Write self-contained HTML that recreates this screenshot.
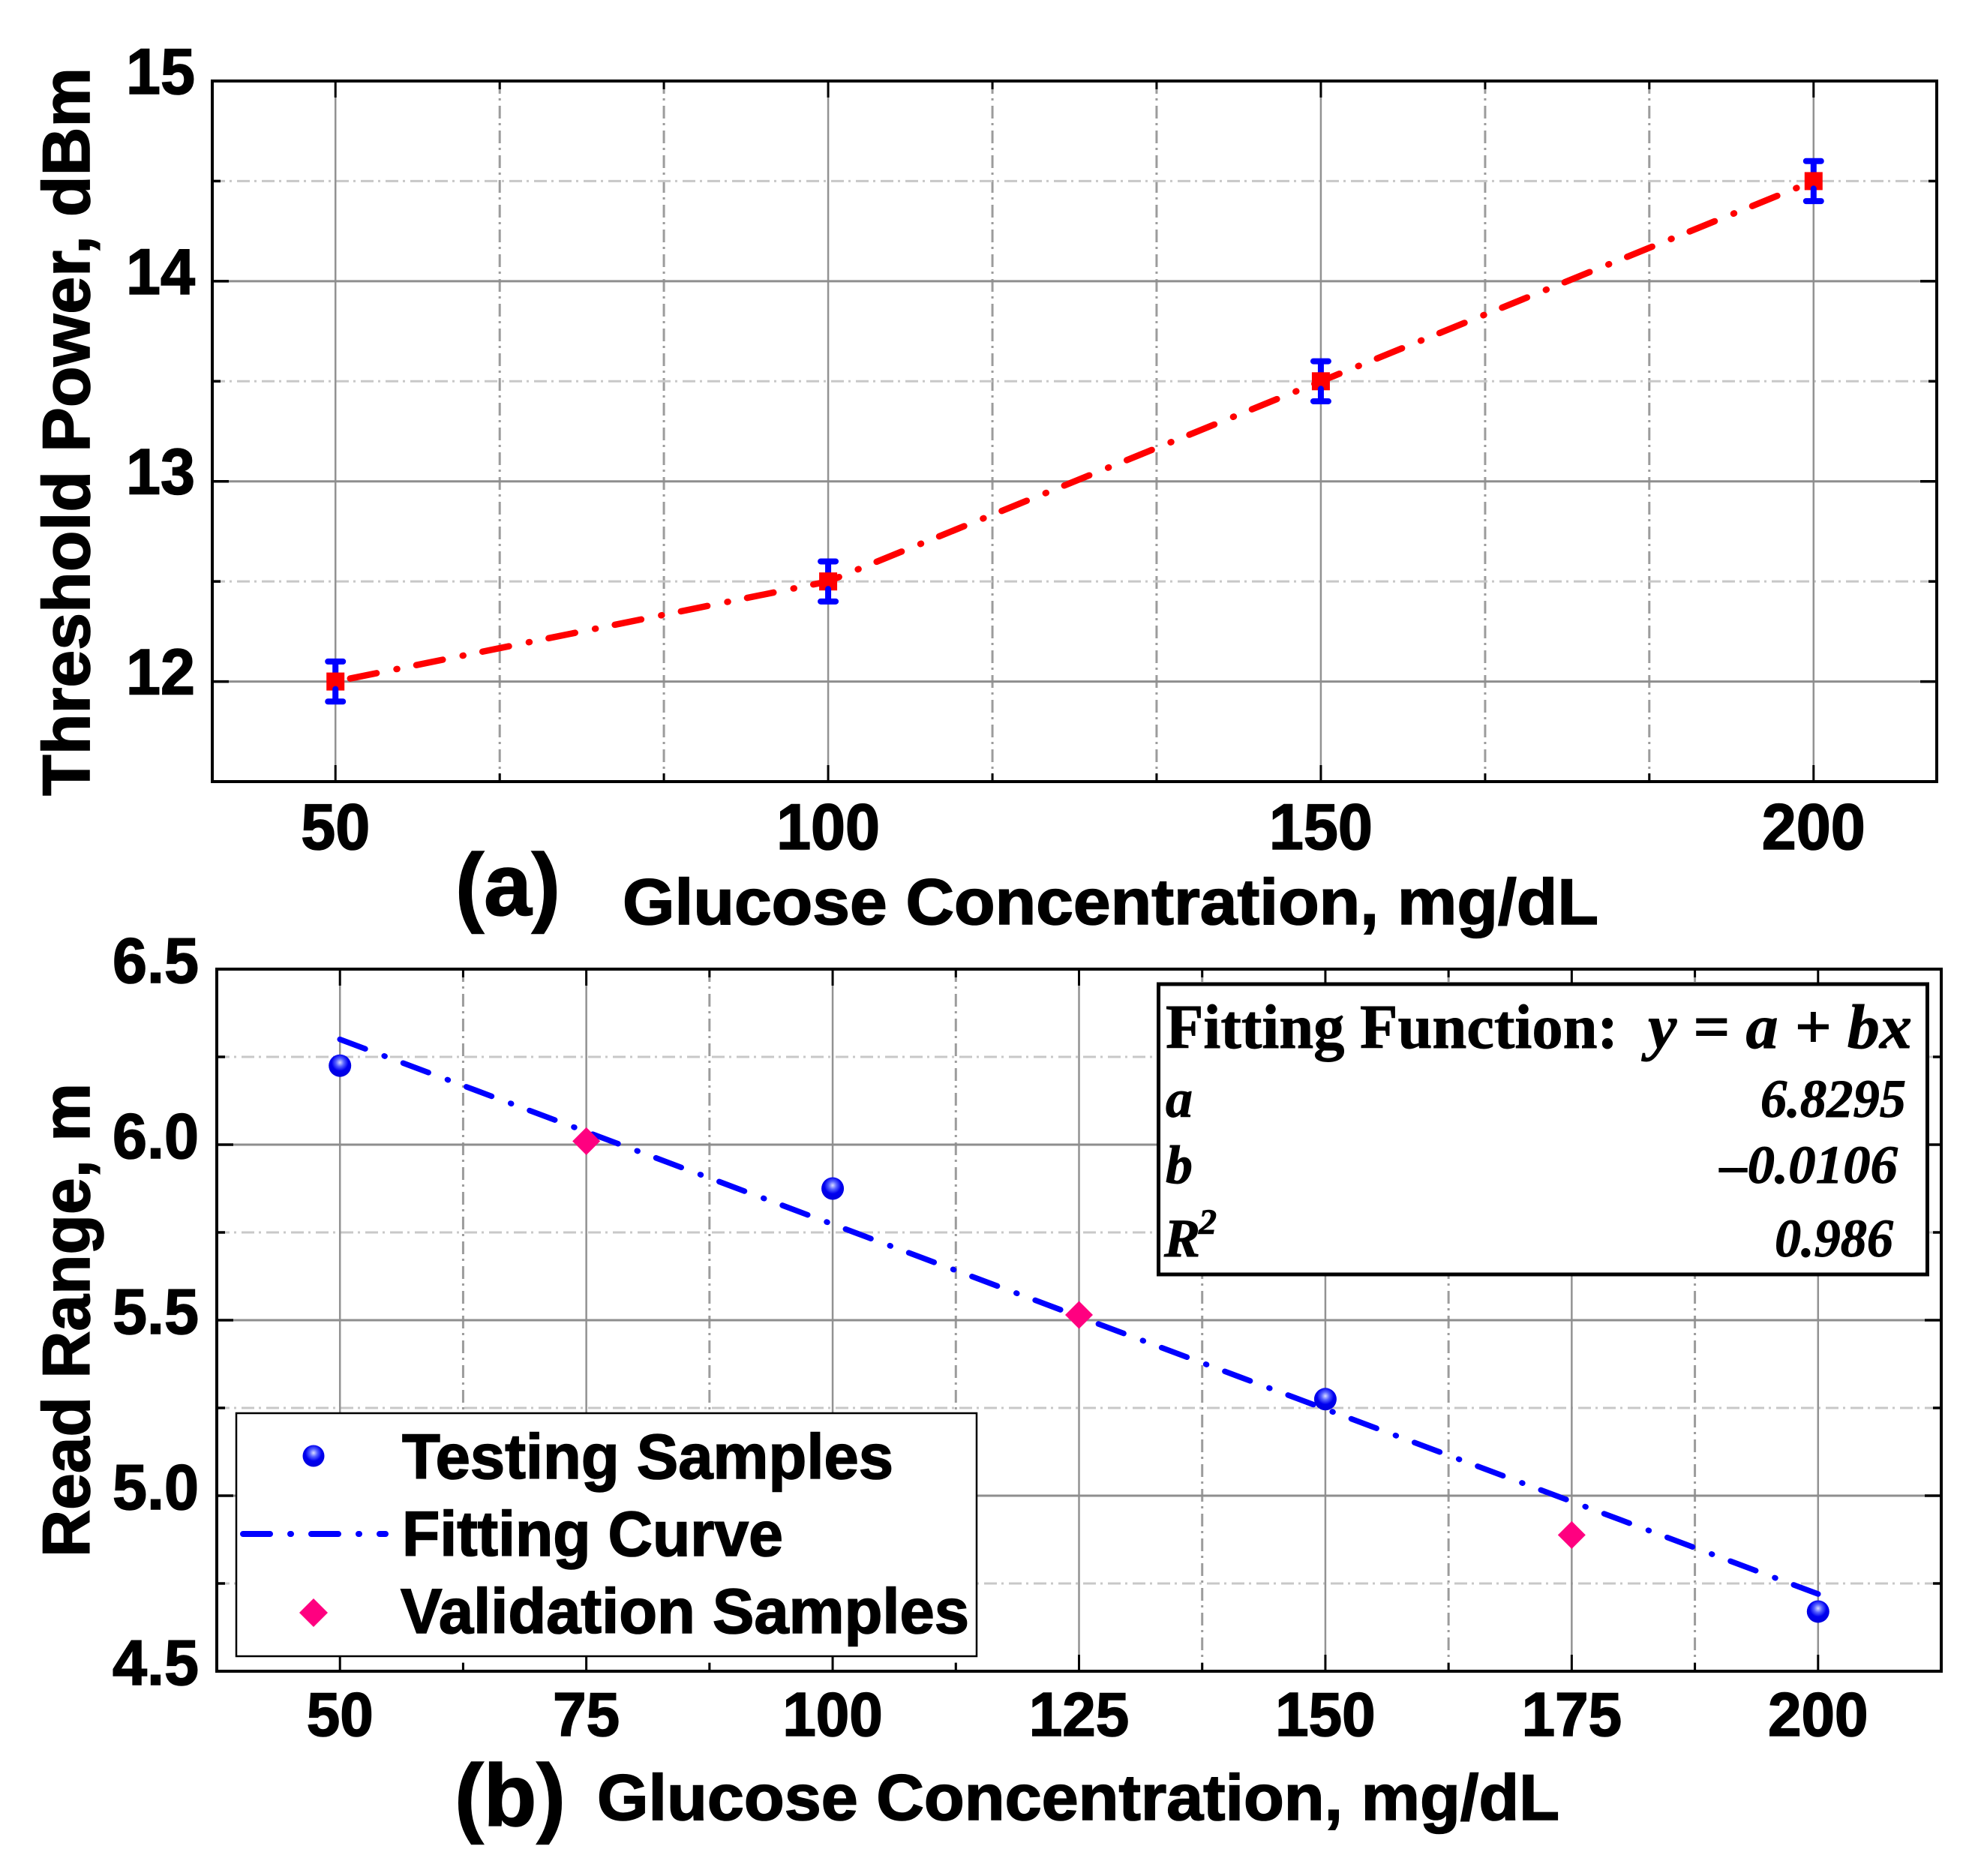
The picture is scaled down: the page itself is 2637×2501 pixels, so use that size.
<!DOCTYPE html>
<html lang="en">
<head>
<meta charset="utf-8">
<title>Threshold Power and Read Range vs Glucose Concentration</title>
<style>
html,body{margin:0;padding:0;background:#fff;}
svg{display:block;}
text{font-family:"Liberation Sans",sans-serif;font-weight:bold;fill:#000;stroke:#000;stroke-width:1.6px;}
text.serif{font-family:"Liberation Serif",serif;stroke-width:0.9px;}
</style>
</head>
<body>
<svg id="chart" xmlns="http://www.w3.org/2000/svg" width="2637" height="2501" viewBox="0 0 2637 2501">
  <defs>
    <radialGradient id="sphere" cx="0.5" cy="0.36" r="0.6">
      <stop offset="0" stop-color="#d8dcff"/>
      <stop offset="0.3" stop-color="#5560ff"/>
      <stop offset="0.62" stop-color="#0000f0"/>
      <stop offset="1" stop-color="#0000e0"/>
    </radialGradient>
  </defs>
  <rect x="0" y="0" width="2637" height="2501" fill="#fff"/>
  <g id="layer-a"></g>
  <g id="layer-b"></g>

  <text transform="translate(119,1061) rotate(-90)" font-size="89" textLength="971" lengthAdjust="spacingAndGlyphs">Threshold Power, dBm</text>
  <text x="607" y="1220" font-size="117" textLength="140" lengthAdjust="spacingAndGlyphs">(a)</text>
  <text x="830" y="1232" font-size="86" textLength="1301" lengthAdjust="spacingAndGlyphs">Glucose Concentration, mg/dL</text>

  <text transform="translate(119,2076) rotate(-90)" font-size="89" textLength="632" lengthAdjust="spacingAndGlyphs">Read Range, m</text>
  <text x="606" y="2434" font-size="117" textLength="148" lengthAdjust="spacingAndGlyphs">(b)</text>
  <text x="796" y="2426" font-size="86" textLength="1283" lengthAdjust="spacingAndGlyphs">Glucose Concentration, mg/dL</text>

  <g>
    <rect x="1544.5" y="1312" width="1025" height="387" fill="#fff" stroke="#000" stroke-width="5"/>
    <text class="serif" x="1554" y="1397" font-size="84" textLength="603" lengthAdjust="spacingAndGlyphs">Fitting Function:</text>
    <text class="serif" x="2197" y="1397" font-size="84" font-style="italic" textLength="352" lengthAdjust="spacingAndGlyphs">y = a + bx</text>
    <text class="serif" x="1554" y="1489" font-size="72" font-style="italic">a</text>
    <text class="serif" x="2347" y="1489" font-size="72" font-style="italic" textLength="194" lengthAdjust="spacingAndGlyphs">6.8295</text>
    <text class="serif" x="1554" y="1577" font-size="72" font-style="italic">b</text>
    <text class="serif" x="2293" y="1577" font-size="72" font-style="italic" textLength="237" lengthAdjust="spacingAndGlyphs">–0.0106</text>
    <text class="serif" x="1552" y="1675" font-size="72" font-style="italic">R</text>
    <text class="serif" x="1598" y="1645" font-size="48" font-style="italic">2</text>
    <text class="serif" x="2366" y="1675" font-size="72" font-style="italic" textLength="158" lengthAdjust="spacingAndGlyphs">0.986</text>
  </g>

  <g>
    <rect x="315" y="1884" width="987" height="324" fill="#fff" stroke="#000" stroke-width="2.5"/>
    <circle cx="418" cy="1941" r="14.5" fill="url(#sphere)"/>
    <text x="536" y="1971" font-size="84" textLength="655" lengthAdjust="spacingAndGlyphs">Testing Samples</text>
    <line x1="324" y1="2045" x2="514" y2="2045" stroke="#0000ff" stroke-width="8" stroke-linecap="round" stroke-dasharray="36 27 1 27"/>
    <text x="536" y="2074" font-size="84" textLength="508" lengthAdjust="spacingAndGlyphs">Fitting Curve</text>
    <polygon points="418,2131 437,2150 418,2169 399,2150" fill="#ff0080"/>
    <text x="534" y="2177" font-size="84" textLength="758" lengthAdjust="spacingAndGlyphs">Validation Samples</text>
  </g>
  <g id="layer-legend-over"></g>
</svg>
<script>
// Panel (a) data
const thresholdX = [50, 100, 150, 200];
const thresholdPower = [12, 12.5, 13.5, 14.5];
const thresholdError = [0.1, 0.1, 0.1, 0.1];
const xMajorA = [50, 100, 150, 200];
const xMajorLabelsA = ['50', '100', '150', '200'];
const xMinorA = [66.67, 83.33, 116.67, 133.33, 166.67, 183.33];
const yMajorA = [12, 13, 14, 15];
const yMajorLabelsA = ['12', '13', '14', '15'];
const yMinorA = [12.5, 13.5, 14.5];
const xDomainA = [37.5, 212.5];
const yDomainA = [11.5, 15];

// Panel (b) data
const testingX = [50, 100, 150, 200];
const testingRange = [6.225, 5.875, 5.275, 4.67];
const validationX = [75, 125, 175];
const validationRange = [6.01, 5.515, 4.888];
const fitX = [50, 200];
const fitRange = [6.30, 4.72];
const xMajorB = [50, 75, 100, 125, 150, 175, 200];
const xMajorLabelsB = ['50', '75', '100', '125', '150', '175', '200'];
const xMinorB = [62.5, 87.5, 112.5, 137.5, 162.5, 187.5];
const yMajorB = [4.5, 5, 5.5, 6, 6.5];
const yMajorLabelsB = ['4.5', '5.0', '5.5', '6.0', '6.5'];
const yMinorB = [4.75, 5.25, 5.75, 6.25];
const xDomainB = [37.5, 212.5];
const yDomainB = [4.5, 6.5];

const SVGNS = 'http://www.w3.org/2000/svg';
function mk(tag, attrs, parent) {
  const el = document.createElementNS(SVGNS, tag);
  for (const k in attrs) el.setAttribute(k, attrs[k]);
  parent.appendChild(el);
  return el;
}
function scale(domain, range) {
  return function (v) {
    return range[0] + (v - domain[0]) / (domain[1] - domain[0]) * (range[1] - range[0]);
  };
}

function drawFrame(g, o) {
  const x = o.x, y = o.y;
  const left = o.box[0], right = o.box[1], top = o.box[2], bottom = o.box[3];

  o.xMinor.forEach(function (v) {
    const l = mk('line', {x1: x(v), x2: x(v), y1: top, y2: bottom, stroke: '#9c9c9c', 'stroke-width': 3, 'stroke-dasharray': '17 6 3 7'}, g);
    
    
  });
  o.yMinor.forEach(function (v) {
    const l = mk('line', {x1: left, x2: right, y1: y(v), y2: y(v), stroke: '#c8c8c8', 'stroke-width': 3, 'stroke-dasharray': '17 6 3 7'}, g);
    
    
  });
  o.xMajor.forEach(function (v) {
    const l = mk('line', {x1: x(v), x2: x(v), y1: top, y2: bottom, stroke: '#929292', 'stroke-width': 2.5}, g);
    
    
  });
  o.yMajor.forEach(function (v) {
    if (y(v) <= top + 1 || y(v) >= bottom - 1) return;
    const l = mk('line', {x1: left, x2: right, y1: y(v), y2: y(v), stroke: '#8e8e8e', 'stroke-width': 3}, g);
    
    
  });

  function tickX(v, len) {
    [[top, top + len], [bottom, bottom - len]].forEach(function (p) {
      const t = mk('line', {x1: x(v), x2: x(v), y1: p[0], y2: p[1], stroke: '#000', 'stroke-width': 3}, g);
      
      
    });
  }
  function tickY(v, len) {
    [[left, left + len], [right, right - len]].forEach(function (p) {
      const t = mk('line', {x1: p[0], x2: p[1], y1: y(v), y2: y(v), stroke: '#000', 'stroke-width': 3.5}, g);
      
      
    });
  }
  o.xMajor.forEach(function (v) { tickX(v, 22); });
  o.xMinor.forEach(function (v) { tickX(v, 11); });
  o.yMajor.forEach(function (v) { tickY(v, 22); });
  o.yMinor.forEach(function (v) { tickY(v, 11); });

  const frame = mk('rect', {x: left, y: top, width: right - left, height: bottom - top, fill: 'none', stroke: '#000', 'stroke-width': 4}, g);
  
  

  o.xMajor.forEach(function (v, i) {
    const s = o.xLabels[i];
    const t = mk('text', {x: x(v), y: o.xLabelY, 'font-size': o.fontX, 'text-anchor': 'middle', textLength: s.length * o.charW, lengthAdjust: 'spacingAndGlyphs'}, g);
    
    
    t.textContent = s;
  });
  o.yMajor.forEach(function (v, i) {
    const s = o.yLabels[i];
    const t = mk('text', {x: o.yLabelX, y: y(v) + o.yLabelDy, 'font-size': o.fontY, 'text-anchor': 'end', textLength: o.yLabelW, lengthAdjust: 'spacingAndGlyphs'}, g);
    
    
    t.textContent = s;
  });
}

// Panel (a)
(function () {
  const g = document.getElementById('layer-a');
  const x = scale(xDomainA, [283, 2582]);
  const y = scale(yDomainA, [1042, 108]);
  drawFrame(g, {x: x, y: y, box: [283, 2582, 108, 1042],
    xMajor: xMajorA, xMinor: xMinorA, yMajor: yMajorA, yMinor: yMinorA,
    xLabels: xMajorLabelsA, yLabels: yMajorLabelsA,
    xLabelY: 1132, fontX: 86, charW: 46, yLabelX: 260, yLabelDy: 17, yLabelW: 92, fontY: 86});

  const pts = thresholdX.map(function (v, i) { return x(v) + ',' + y(thresholdPower[i]); }).join(' ');
  const line = mk('polyline', {points: pts, fill: 'none', stroke: '#ff0000', 'stroke-width': 8.5, 'stroke-linecap': 'round', 'stroke-linejoin': 'round', 'stroke-dasharray': '36 27 1 26', 'stroke-dashoffset': -20}, g);
  
  

  thresholdX.forEach(function (v, i) {
    const cx = x(v), cy = y(thresholdPower[i]);
    const hi = y(thresholdPower[i] + thresholdError[i]);
    const lo = y(thresholdPower[i] - thresholdError[i]);
    const upper = mk('path', {d: 'M' + cx + ' ' + cy + 'V' + hi + 'M' + (cx - 10) + ' ' + hi + 'H' + (cx + 10), fill: 'none', stroke: '#0000ff', 'stroke-width': 8, 'stroke-linecap': 'round'}, g);
    
    
    const sq = mk('rect', {x: cx - 12, y: cy - 12, width: 24, height: 24, fill: '#ff0000'}, g);
    
    
    const lower = mk('path', {d: 'M' + cx + ' ' + (cy + 10) + 'V' + lo + 'M' + (cx - 10) + ' ' + lo + 'H' + (cx + 10), fill: 'none', stroke: '#0000ff', 'stroke-width': 8, 'stroke-linecap': 'round'}, g);
    
    
  });
})();

// Panel (b)
(function () {
  const g = document.getElementById('layer-b');
  const x = scale(xDomainB, [289, 2588]);
  const y = scale(yDomainB, [2228, 1292]);
  drawFrame(g, {x: x, y: y, box: [289, 2588, 1292, 2228],
    xMajor: xMajorB, xMinor: xMinorB, yMajor: yMajorB, yMinor: yMinorB,
    xLabels: xMajorLabelsB, yLabels: yMajorLabelsB,
    xLabelY: 2314, fontX: 83, charW: 44.5, yLabelX: 265, yLabelDy: 18, yLabelW: 115, fontY: 85});

  const pts = fitX.map(function (v, i) { return x(v) + ',' + y(fitRange[i]); }).join(' ');
  const line = mk('polyline', {points: pts, fill: 'none', stroke: '#0000ff', 'stroke-width': 7.5, 'stroke-linecap': 'round', 'stroke-dasharray': '36 27 1 26'}, g);
  
  

  testingX.forEach(function (v, i) {
    const c = mk('circle', {cx: x(v), cy: y(testingRange[i]), r: 15, fill: 'url(#sphere)'}, g);
    
    
  });
  validationX.forEach(function (v, i) {
    const cx = x(v), cy = y(validationRange[i]), r = 18.5;
    const d = mk('polygon', {points: [cx, cy - r, cx + r, cy, cx, cy + r, cx - r, cy].join(' '), fill: '#ff0080'}, g);
    
    
  });
})();
</script>
</body>
</html>
